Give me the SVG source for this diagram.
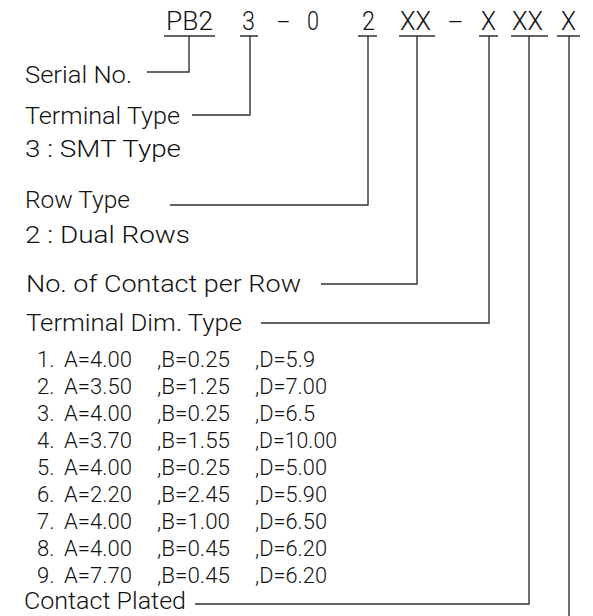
<svg xmlns="http://www.w3.org/2000/svg" width="593" height="616" viewBox="0 0 593 616">
<style>
text{font-family:Roboto,"Liberation Sans",Arial,sans-serif;font-weight:300;fill:#111;}
.h{font-size:25px;}
.l{font-size:24px;}
.r{font-size:22px;}
.ln{fill:none;stroke:#333;stroke-width:1.4;}
</style>
<rect width="593" height="616" fill="#fff"/>
<g id="header">
<text class="h" x="166" y="30" textLength="47" lengthAdjust="spacingAndGlyphs">PB2</text>
<text class="h" x="242" y="30" textLength="13" lengthAdjust="spacingAndGlyphs">3</text>
<text class="h" x="277" y="30" textLength="13" lengthAdjust="spacingAndGlyphs">-</text>
<text class="h" x="307" y="30" textLength="12" lengthAdjust="spacingAndGlyphs">0</text>
<text class="h" x="362" y="30" textLength="13" lengthAdjust="spacingAndGlyphs">2</text>
<text class="h" x="400" y="30" textLength="31" lengthAdjust="spacingAndGlyphs">XX</text>
<text class="h" x="448" y="30" textLength="15" lengthAdjust="spacingAndGlyphs">-</text>
<text class="h" x="481" y="30" textLength="15" lengthAdjust="spacingAndGlyphs">X</text>
<text class="h" x="512" y="30" textLength="31" lengthAdjust="spacingAndGlyphs">XX</text>
<text class="h" x="561" y="30" textLength="15" lengthAdjust="spacingAndGlyphs">X</text>
<path class="ln" d="M164,36H215M240,36H258M358,36H377M399,36H435M479,36H498M511,36H548M557,36H580"/>
</g>
<g id="serial"><text class="l" x="25" y="83" textLength="107" lengthAdjust="spacingAndGlyphs">Serial No.</text></g>
<g id="terminal-type"><text class="l" x="25" y="124" textLength="155" lengthAdjust="spacingAndGlyphs">Terminal Type</text>
<text class="l" x="25" y="157" textLength="156" lengthAdjust="spacingAndGlyphs">3 : SMT Type</text></g>
<g id="row-type"><text class="l" x="25" y="208" textLength="105" lengthAdjust="spacingAndGlyphs">Row Type</text>
<text class="l" x="25" y="243" textLength="165" lengthAdjust="spacingAndGlyphs">2 : Dual Rows</text></g>
<g id="contacts"><text class="l" x="26" y="292" textLength="275" lengthAdjust="spacingAndGlyphs">No. of Contact per Row</text></g>
<g id="terminal-dim"><text class="l" x="26" y="331" textLength="216" lengthAdjust="spacingAndGlyphs">Terminal Dim. Type</text>
<g>
<text class="r" x="37" y="367">1.</text><text class="r" x="64" y="367" textLength="68" lengthAdjust="spacingAndGlyphs">A=4.00</text><text class="r" x="157" y="367" textLength="73" lengthAdjust="spacingAndGlyphs">,B=0.25</text><text class="r" x="255" y="367" textLength="60" lengthAdjust="spacingAndGlyphs">,D=5.9</text>
<text class="r" x="37" y="394">2.</text><text class="r" x="64" y="394" textLength="68" lengthAdjust="spacingAndGlyphs">A=3.50</text><text class="r" x="157" y="394" textLength="73" lengthAdjust="spacingAndGlyphs">,B=1.25</text><text class="r" x="255" y="394" textLength="72" lengthAdjust="spacingAndGlyphs">,D=7.00</text>
<text class="r" x="37" y="421">3.</text><text class="r" x="64" y="421" textLength="68" lengthAdjust="spacingAndGlyphs">A=4.00</text><text class="r" x="157" y="421" textLength="73" lengthAdjust="spacingAndGlyphs">,B=0.25</text><text class="r" x="255" y="421" textLength="60" lengthAdjust="spacingAndGlyphs">,D=6.5</text>
<text class="r" x="37" y="448">4.</text><text class="r" x="64" y="448" textLength="68" lengthAdjust="spacingAndGlyphs">A=3.70</text><text class="r" x="157" y="448" textLength="73" lengthAdjust="spacingAndGlyphs">,B=1.55</text><text class="r" x="255" y="448" textLength="82" lengthAdjust="spacingAndGlyphs">,D=10.00</text>
<text class="r" x="37" y="475">5.</text><text class="r" x="64" y="475" textLength="68" lengthAdjust="spacingAndGlyphs">A=4.00</text><text class="r" x="157" y="475" textLength="73" lengthAdjust="spacingAndGlyphs">,B=0.25</text><text class="r" x="255" y="475" textLength="72" lengthAdjust="spacingAndGlyphs">,D=5.00</text>
<text class="r" x="37" y="502">6.</text><text class="r" x="64" y="502" textLength="68" lengthAdjust="spacingAndGlyphs">A=2.20</text><text class="r" x="157" y="502" textLength="73" lengthAdjust="spacingAndGlyphs">,B=2.45</text><text class="r" x="255" y="502" textLength="72" lengthAdjust="spacingAndGlyphs">,D=5.90</text>
<text class="r" x="37" y="529">7.</text><text class="r" x="64" y="529" textLength="68" lengthAdjust="spacingAndGlyphs">A=4.00</text><text class="r" x="157" y="529" textLength="73" lengthAdjust="spacingAndGlyphs">,B=1.00</text><text class="r" x="255" y="529" textLength="72" lengthAdjust="spacingAndGlyphs">,D=6.50</text>
<text class="r" x="37" y="556">8.</text><text class="r" x="64" y="556" textLength="68" lengthAdjust="spacingAndGlyphs">A=4.00</text><text class="r" x="157" y="556" textLength="73" lengthAdjust="spacingAndGlyphs">,B=0.45</text><text class="r" x="255" y="556" textLength="72" lengthAdjust="spacingAndGlyphs">,D=6.20</text>
<text class="r" x="37" y="583">9.</text><text class="r" x="64" y="583" textLength="68" lengthAdjust="spacingAndGlyphs">A=7.70</text><text class="r" x="157" y="583" textLength="73" lengthAdjust="spacingAndGlyphs">,B=0.45</text><text class="r" x="255" y="583" textLength="72" lengthAdjust="spacingAndGlyphs">,D=6.20</text>
</g></g>
<g id="contact-plated"><text class="l" x="24" y="609" textLength="162" lengthAdjust="spacingAndGlyphs">Contact Plated</text></g>
<g id="connectors">
<path class="ln" d="M147,72H189V36"/>
<path class="ln" d="M192,115H250V36"/>
<path class="ln" d="M170,205H368V36"/>
<path class="ln" d="M321,284H417V36"/>
<path class="ln" d="M261,323H489V36"/>
<path class="ln" d="M195,604H529V36"/>
<path class="ln" d="M569,36V616"/>
</g>
</svg>
